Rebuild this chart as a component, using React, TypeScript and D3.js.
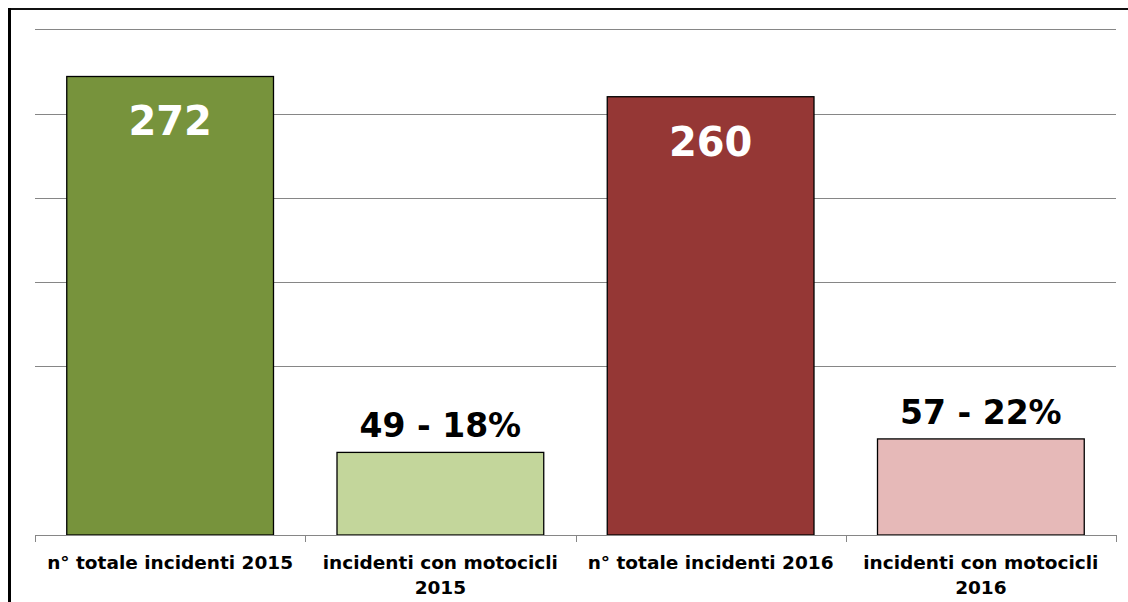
import React from "react";
import * as d3 from "d3";

// Incidents: totals per year and those involving motorcycles
const categories: string[][] = [
  ["n° totale incidenti 2015"],
  ["incidenti con motocicli", "2015"],
  ["n° totale incidenti 2016"],
  ["incidenti con motocicli", "2016"],
];
const values: number[] = [272, 49, 260, 57];
// index of the yearly total each bar refers to (-1 = the bar is itself a total)
const totalOf: number[] = [-1, 0, -1, 2];
const fills: string[] = ["#77933C", "#C3D69B", "#953735", "#E6B9B8"];
const gridValues: number[] = [100, 150, 200, 250, 300];

const W = 1128;
const H = 602;
const FONT = "'DejaVu Sans', Verdana, sans-serif";

export default function App() {
  const left = 35;
  const right = 1116;
  const baseY = 535;

  const x = d3
    .scaleBand<number>()
    .domain(values.map((_, i) => i))
    .range([left, right])
    .paddingInner(0.235)
    .paddingOuter(0.1175);

  const y = d3.scaleLinear().domain([0, 300]).range([baseY, 29.3]);

  const step = x.step();
  const tickXs = d3.range(values.length + 1).map((i) => left + i * step);

  const labelFor = (i: number) => {
    const t = totalOf[i];
    if (t < 0) return String(values[i]);
    const pct = Math.round((values[i] / values[t]) * 100);
    return `${values[i]} - ${pct}%`;
  };

  return (
    <svg
      width={W}
      height={H}
      style={{ position: "absolute", left: 0, top: 0, display: "block", background: "#fff" }}
    >
      {/* chart frame (left and top edges) */}
      <rect x={8} y={8} width={W - 8} height={2} fill="#111" />
      <rect x={8} y={8} width={3} height={H - 8} fill="#000" />

      {/* gridlines */}
      {gridValues.map((g) => (
        <line
          key={g}
          x1={left}
          x2={right}
          y1={Math.round(y(g)) + 0.5}
          y2={Math.round(y(g)) + 0.5}
          stroke="#868686"
          strokeWidth={1}
        />
      ))}

      {/* bars */}
      {values.map((v, i) => (
        <rect
          key={i}
          x={x(i)!}
          y={y(v)}
          width={x.bandwidth()}
          height={baseY - y(v)}
          fill={fills[i]}
          stroke="#000"
          strokeWidth={1.3}
        />
      ))}

      {/* category axis */}
      <line x1={left} x2={right} y1={baseY + 0.5} y2={baseY + 0.5} stroke="#868686" strokeWidth={1} />
      {tickXs.map((tx, i) => (
        <line
          key={i}
          x1={Math.round(tx) + 0.5}
          x2={Math.round(tx) + 0.5}
          y1={baseY}
          y2={baseY + 7}
          stroke="#868686"
          strokeWidth={1}
        />
      ))}

      {/* value labels */}
      {values.map((v, i) => {
        const cx = x(i)! + x.bandwidth() / 2;
        const inside = totalOf[i] < 0;
        return (
          <text
            key={i}
            x={cx}
            y={inside ? y(v) + 59 : y(v) - 15}
            textAnchor="middle"
            fontFamily={FONT}
            fontWeight="bold"
            fontSize={inside ? 40 : 33}
            fill={inside ? "#fff" : "#000"}
          >
            {labelFor(i)}
          </text>
        );
      })}

      {/* category labels */}
      {categories.map((lines, i) => {
        const cx = x(i)! + x.bandwidth() / 2;
        return (
          <text
            key={i}
            x={cx}
            y={568.5}
            textAnchor="middle"
            fontFamily={FONT}
            fontWeight="bold"
            fontSize={18.5}
            fill="#000"
          >
            {lines.map((ln, j) => (
              <tspan key={j} x={cx} dy={j === 0 ? 0 : 25}>
                {ln}
              </tspan>
            ))}
          </text>
        );
      })}
    </svg>
  );
}
